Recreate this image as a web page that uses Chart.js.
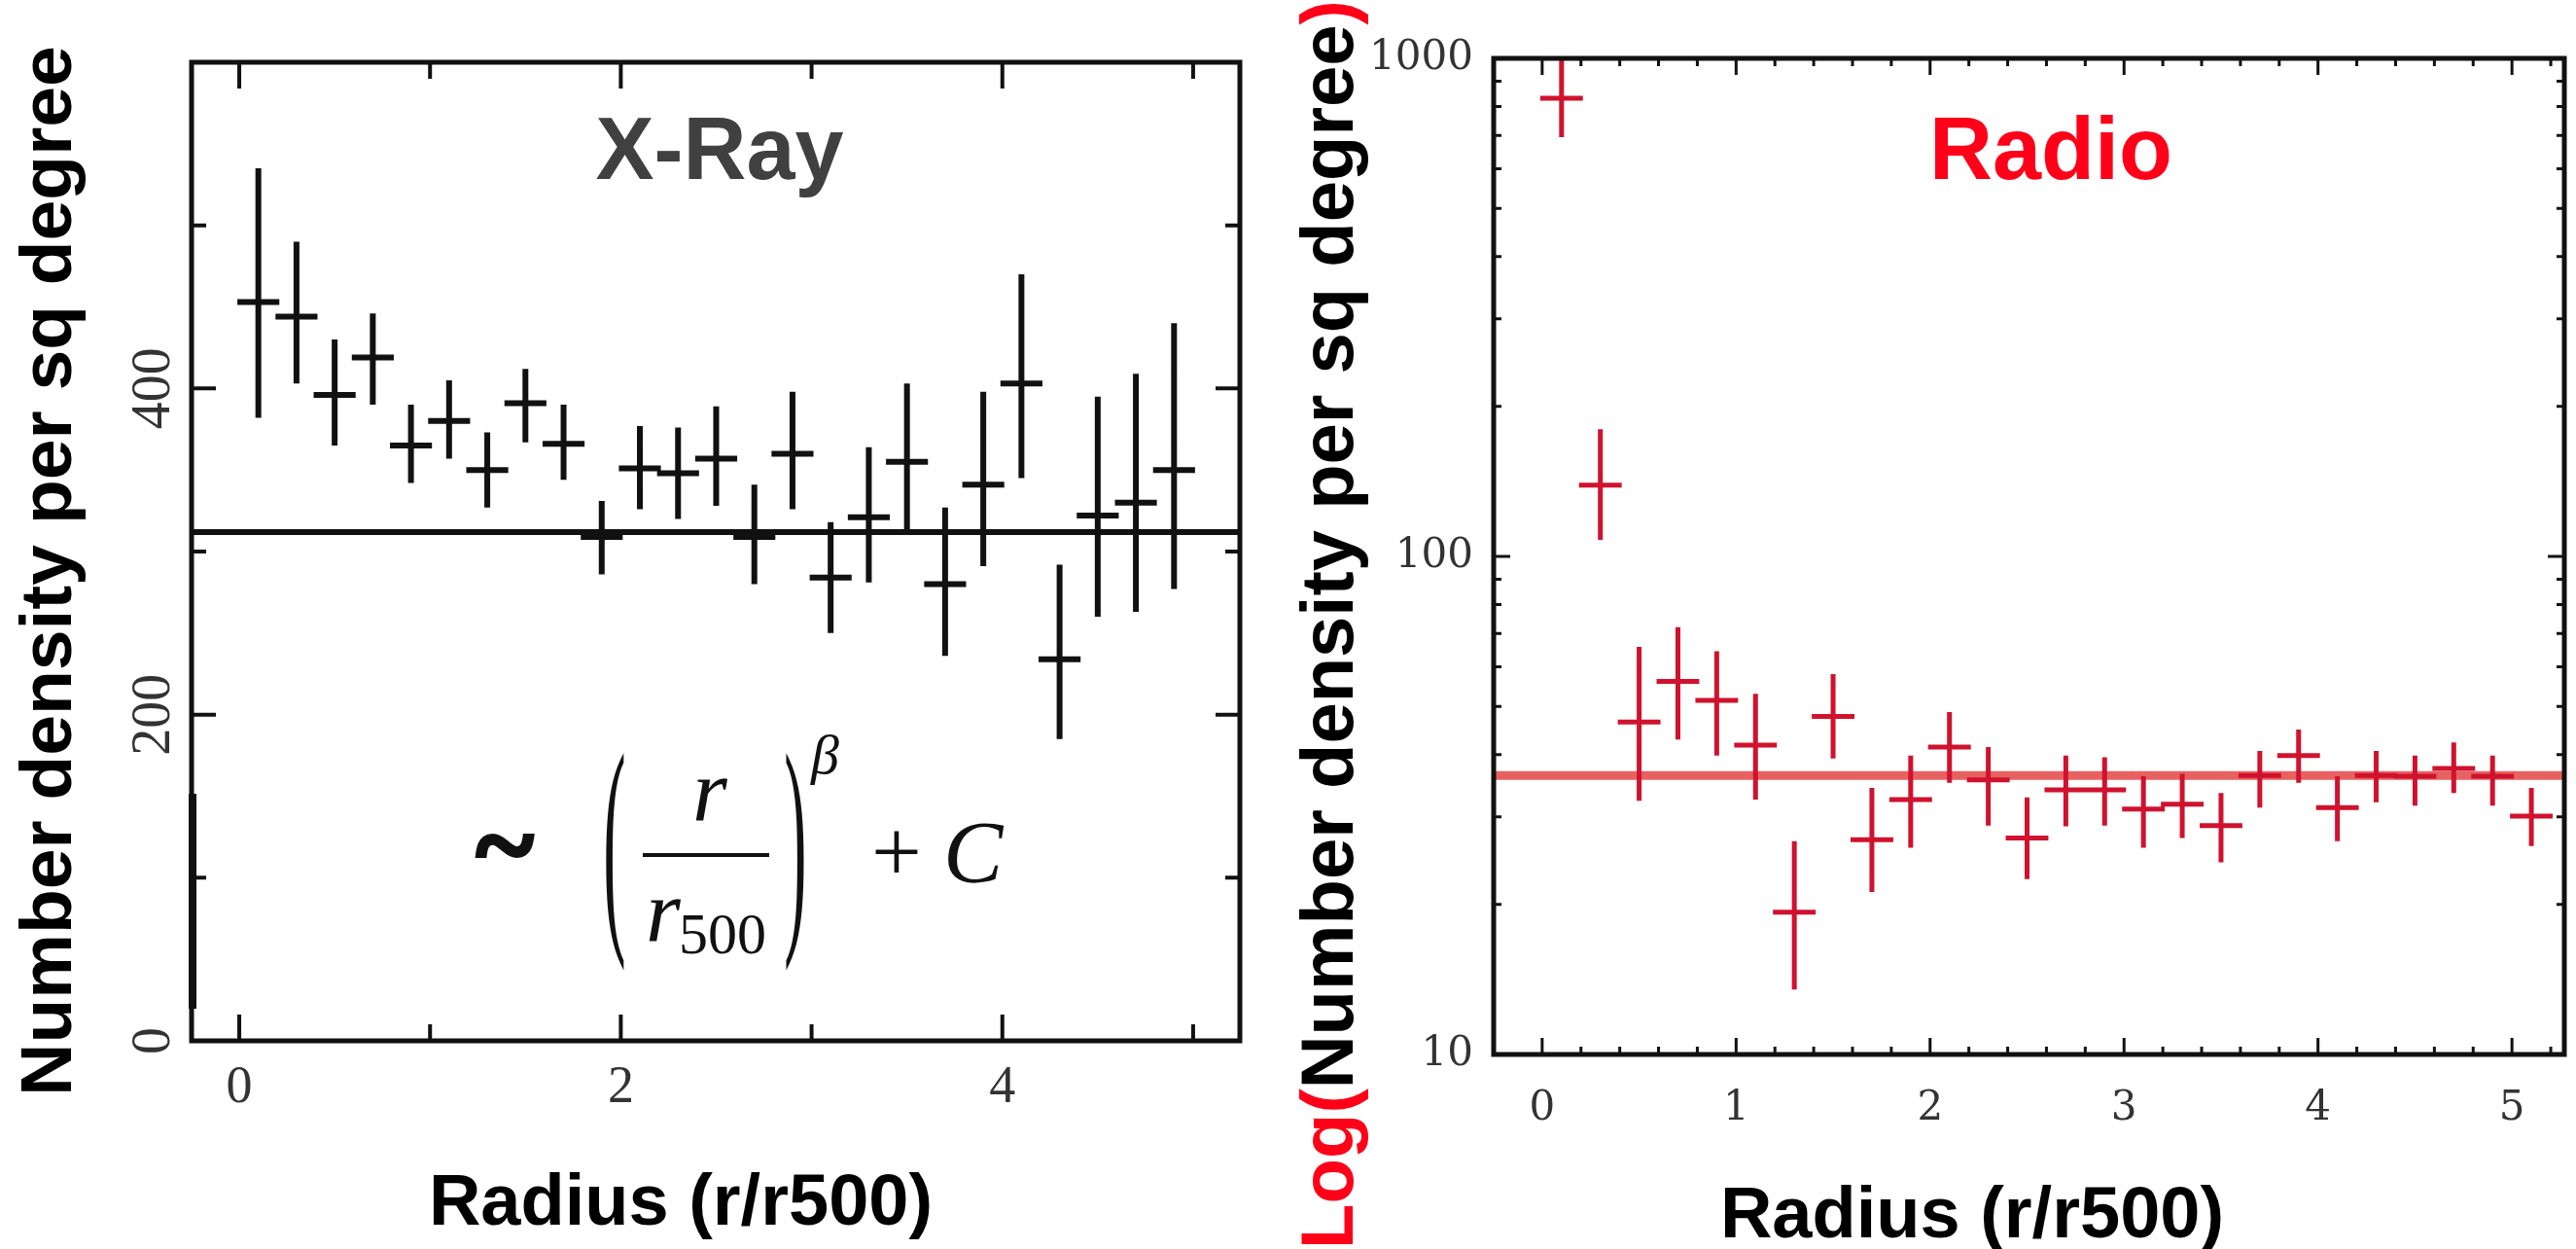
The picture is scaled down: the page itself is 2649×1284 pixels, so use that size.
<!DOCTYPE html>
<html>
<head>
<meta charset="utf-8">
<script src="https://cdn.jsdelivr.net/npm/chart.js@4.4.1/dist/chart.umd.min.js"></script>
<style>
  html, body { margin: 0; padding: 0; background: #fff; }
  #wrap { position: relative; width: 2649px; height: 1284px; overflow: hidden; background: #fff; }
  canvas { position: absolute; top: 0; }
  #xray { left: 0; }
  #radio { left: 1320px; }
</style>
</head>
<body>
<div id="wrap">
  <canvas id="xray" width="1320" height="1284"></canvas>
  <canvas id="radio" width="1329" height="1284"></canvas>
</div>
<script>
// X-ray panel: number density per sq degree against r/r500
const xrayR  = [0.1, 0.3, 0.5, 0.7, 0.9, 1.1, 1.3, 1.5, 1.7, 1.9, 2.1, 2.3, 2.5, 2.7, 2.9, 3.1, 3.3, 3.5, 3.7, 3.9, 4.1, 4.3, 4.5, 4.7, 4.9];
const xrayN  = [453, 444, 396, 419, 365, 380, 350, 391, 366, 309, 351, 348, 357, 309, 360, 284, 321, 355, 280, 341, 403, 234, 322, 330, 350];
const xrayLo = [382, 403, 365, 390, 342, 357, 327, 367, 344, 286, 326, 320, 328, 280, 326, 250, 281, 312, 236, 291, 345, 185, 260, 263, 277];
const xrayHi = [535, 490, 430, 446, 390, 405, 373, 412, 390, 331, 377, 376, 389, 341, 398, 318, 364, 403, 327, 398, 470, 292, 395, 409, 440];
const xrayFit = 312;
const xrayXTicks = [0, 1, 2, 3, 4, 5];
const xrayXLabels = [0, 2, 4];
const xrayYTicks = [0, 100, 200, 300, 400, 500, 600];
const xrayYLabels = [0, 200, 400];

// Radio panel: same quantity on a log axis
const radioR  = [0.1, 0.3, 0.5, 0.7, 0.9, 1.1, 1.3, 1.5, 1.7, 1.9, 2.1, 2.3, 2.5, 2.7, 2.9, 3.1, 3.3, 3.5, 3.7, 3.9, 4.1, 4.3, 4.5, 4.7, 4.9, 5.1];
const radioN  = [832, 139, 46.5, 56.1, 51.4, 41.8, 19.3, 47.7, 27.0, 32.5, 41.4, 35.6, 27.2, 34.0, 34.0, 31.1, 31.8, 28.8, 36.3, 39.8, 31.3, 36.3, 36.2, 37.5, 36.2, 30.1];
const radioLo = [695, 108, 32.3, 42.9, 39.8, 32.5, 13.5, 39.3, 21.2, 26.0, 35.1, 28.8, 22.5, 28.7, 28.8, 26.0, 27.2, 24.3, 31.3, 35.1, 26.8, 32.1, 31.6, 33.5, 31.6, 26.2];
const radioHi = [1100, 180, 65.8, 72.1, 64.5, 53.0, 26.8, 58.0, 34.3, 39.8, 48.7, 41.4, 32.8, 39.8, 39.5, 36.2, 36.6, 33.5, 40.7, 44.9, 36.2, 40.7, 39.8, 42.3, 39.8, 34.3];
const radioFit = 36.3;
const radioXTicks = [0, 1, 2, 3, 4, 5];
const radioYTicks = [10, 100, 1000];

const binHalf = 0.11;   // half width of the radial bins

const RED = '#ff0018';
const TITLE_FONT = '"Liberation Sans", Arial, sans-serif';

// error bars as broken line segments (null y ends a segment)
function vBars(xs, lo, hi) {
  const pts = [];
  xs.forEach((x, i) => { pts.push({x: x, y: lo[i]}, {x: x, y: hi[i]}, {x: x, y: null}); });
  return pts;
}
function hBars(xs, ys) {
  const pts = [];
  xs.forEach((x, i) => { pts.push({x: x - binHalf, y: ys[i]}, {x: x + binHalf, y: ys[i]}, {x: x, y: null}); });
  return pts;
}

function drawText(ctx, t) {
  ctx.save();
  ctx.font = t.font;
  ctx.textBaseline = 'alphabetic';
  ctx.translate(t.x, t.y);
  if (t.rotate) ctx.rotate(t.rotate);
  const parts = t.parts || [{text: t.text, color: t.color}];
  const total = parts.reduce((s, p) => s + ctx.measureText(p.text).width, 0);
  let pos = -total / 2;
  ctx.textAlign = 'left';
  parts.forEach(p => {
    ctx.fillStyle = p.color;
    ctx.fillText(p.text, pos, 0);
    pos += ctx.measureText(p.text).width;
  });
  ctx.restore();
}

// (r / r500)^beta + C, pasted over the lower part of the X-ray panel
function drawFormula(ctx) {
  ctx.save();
  ctx.fillStyle = '#111';
  ctx.strokeStyle = '#111';
  // edge of the pasted formula box sits on the left axis
  ctx.fillRect(194, 816, 8, 221);
  ctx.textBaseline = 'alphabetic';
  ctx.textAlign = 'center';
  ctx.font = 'bold 112px "Liberation Serif", serif';
  ctx.lineWidth = 4;
  ctx.fillText('~', 519, 906);
  ctx.strokeText('~', 519, 906);
  ctx.font = '70px "Liberation Serif", serif';
  [['(', 632], [')', 818]].forEach(([ch, x]) => {
    ctx.save();
    ctx.translate(x, 945);
    ctx.scale(1, 3.5);
    ctx.fillText(ch, 0, 0);
    ctx.restore();
  });
  ctx.font = 'italic 92px "Liberation Serif", serif';
  ctx.fillText('r', 730, 843);
  ctx.fillRect(661, 877, 130, 4);
  ctx.textAlign = 'left';
  ctx.fillText('r', 664, 967);
  ctx.font = '60px "Liberation Serif", serif';
  ctx.fillText('500', 698, 980);
  ctx.font = 'italic 58px "Liberation Serif", serif';
  ctx.fillText('\u03B2', 834, 795);
  ctx.font = '92px "Liberation Serif", serif';
  ctx.textAlign = 'center';
  ctx.fillText('+', 922, 906);
  ctx.font = 'italic 92px "Liberation Serif", serif';
  ctx.textAlign = 'left';
  ctx.fillText('C', 970, 907);
  ctx.restore();
}

const decor = {
  id: 'decor',
  afterDatasetsDraw(chart, args, opts) {
    const {ctx, chartArea: a} = chart;
    const x = chart.scales.x, y = chart.scales.y;
    ctx.save();
    ctx.strokeStyle = '#111';
    ctx.lineWidth = opts.tickWidth;
    ctx.beginPath();
    opts.xTicks.forEach(t => {
      const px = x.getPixelForValue(t.v);
      ctx.moveTo(px, a.bottom); ctx.lineTo(px, a.bottom - t.len);
      ctx.moveTo(px, a.top); ctx.lineTo(px, a.top + t.len);
    });
    opts.yTicks.forEach(t => {
      const py = y.getPixelForValue(t.v);
      ctx.moveTo(a.left, py); ctx.lineTo(a.left + t.len, py);
      ctx.moveTo(a.right, py); ctx.lineTo(a.right - t.len, py);
    });
    ctx.stroke();
    ctx.lineWidth = opts.frameWidth;
    ctx.strokeRect(a.left, a.top, a.right - a.left, a.bottom - a.top);
    ctx.restore();
    opts.texts.forEach(t => drawText(ctx, t));
    if (opts.extra) opts.extra(ctx);
  }
};

function errorSets(xs, ys, lo, hi, color, width) {
  return [
    {data: vBars(xs, lo, hi), showLine: true, pointRadius: 0, borderColor: color, borderWidth: width, spanGaps: false},
    {data: hBars(xs, ys), showLine: true, pointRadius: 0, borderColor: color, borderWidth: width, spanGaps: false}
  ];
}

function baseScale(min, max, labels, font, size, pad, extra) {
  return Object.assign({
    min: min, max: max,
    grid: {display: false},
    border: {display: false},
    afterBuildTicks: s => { s.ticks = labels.map(v => ({value: v})); },
    ticks: {font: {family: font, size: size}, color: '#333', padding: pad, autoSkip: false, callback: v => String(v)}
  }, extra);
}

// ---------- X-ray ----------
const xMin1 = -0.25, xMax1 = 5.245;
const xs1 = baseScale(xMin1, xMax1, xrayXLabels, 'Liberation Serif', 54, 8, {type: 'linear', afterFit: s => { s.height = 214; }});
xs1.ticks.maxRotation = 0;
const ys1 = baseScale(0, 600, xrayYLabels, 'Liberation Serif', 56, -12, {type: 'linear', afterFit: s => { s.width = 197; }});
Object.assign(ys1.ticks, {minRotation: 90, maxRotation: 90, crossAlign: 'center'});

new Chart(document.getElementById('xray').getContext('2d'), {
  type: 'scatter',
  data: {
    datasets: errorSets(xrayR, xrayN, xrayLo, xrayHi, '#111', 6).concat([
      {data: [{x: xMin1, y: xrayFit}, {x: xMax1, y: xrayFit}], showLine: true, pointRadius: 0, borderColor: '#111', borderWidth: 6}
    ])
  },
  options: {
    responsive: false,
    animation: false,
    devicePixelRatio: 1,
    layout: {padding: {top: 64, right: 45, left: 0, bottom: 0}},
    scales: {x: xs1, y: ys1},
    plugins: {
      legend: {display: false},
      tooltip: {enabled: false},
      decor: {
        tickWidth: 4, frameWidth: 5,
        xTicks: xrayXTicks.map(v => ({v: v, len: xrayXLabels.includes(v) ? 27 : 17})),
        yTicks: xrayYTicks.map(v => ({v: v, len: xrayYLabels.includes(v) ? 25 : 15})),
        texts: [
          {text: 'X-Ray', color: '#404040', font: 'bold 90px ' + TITLE_FONT, x: 740, y: 184},
          {text: 'Number density per sq degree', color: '#000', font: 'bold 75px ' + TITLE_FONT, x: 73, y: 587, rotate: -Math.PI / 2},
          {text: 'Radius (r/r500)', color: '#000', font: 'bold 74px ' + TITLE_FONT, x: 700, y: 1259}
        ],
        extra: drawFormula
      }
    }
  },
  plugins: [decor]
});

// ---------- Radio ----------
const xMin2 = -0.25, xMax2 = 5.27;
const xs2 = baseScale(xMin2, xMax2, radioXTicks, 'DejaVu Serif', 42, 23, {type: 'linear', afterFit: s => { s.height = 200; }});
xs2.ticks.maxRotation = 0;
const ys2 = baseScale(10, 1000, radioYTicks, 'DejaVu Serif', 42, 13, {type: 'logarithmic', afterFit: s => { s.width = 216; }});

const radioMinorX = [];
for (let k = 0; k <= 26; k++) radioMinorX.push(k / 5);
const radioMinorY = [];
[10, 100].forEach(d => { for (let m = 2; m <= 9; m++) radioMinorY.push(d * m); });

new Chart(document.getElementById('radio').getContext('2d'), {
  type: 'scatter',
  data: {
    datasets: errorSets(radioR, radioN, radioLo, radioHi, '#d0122e', 5).concat([
      {data: [{x: xMin2, y: radioFit}, {x: xMax2, y: radioFit}], showLine: true, pointRadius: 0, borderColor: 'rgba(230, 80, 80, 0.9)', borderWidth: 9}
    ])
  },
  options: {
    responsive: false,
    animation: false,
    devicePixelRatio: 1,
    layout: {padding: {top: 60, right: 12, left: 0, bottom: 0}},
    scales: {x: xs2, y: ys2},
    plugins: {
      legend: {display: false},
      tooltip: {enabled: false},
      decor: {
        tickWidth: 3, frameWidth: 5,
        xTicks: radioXTicks.map(v => ({v: v, len: 17})).concat(radioMinorX.map(v => ({v: v, len: 8}))),
        yTicks: radioYTicks.map(v => ({v: v, len: 17})).concat(radioMinorY.map(v => ({v: v, len: 8}))),
        texts: [
          {text: 'Radio', color: RED, font: 'bold 90px ' + TITLE_FONT, x: 789, y: 184},
          {parts: [{text: 'Log(', color: RED}, {text: 'Number density per sq degree', color: '#000'}, {text: ')', color: RED}],
           font: 'bold 76px ' + TITLE_FONT, x: 71, y: 642, rotate: -Math.PI / 2},
          {text: 'Radius (r/r500)', color: '#000', font: 'bold 74px ' + TITLE_FONT, x: 708, y: 1272}
        ]
      }
    }
  },
  plugins: [decor]
});
</script>
</body>
</html>
